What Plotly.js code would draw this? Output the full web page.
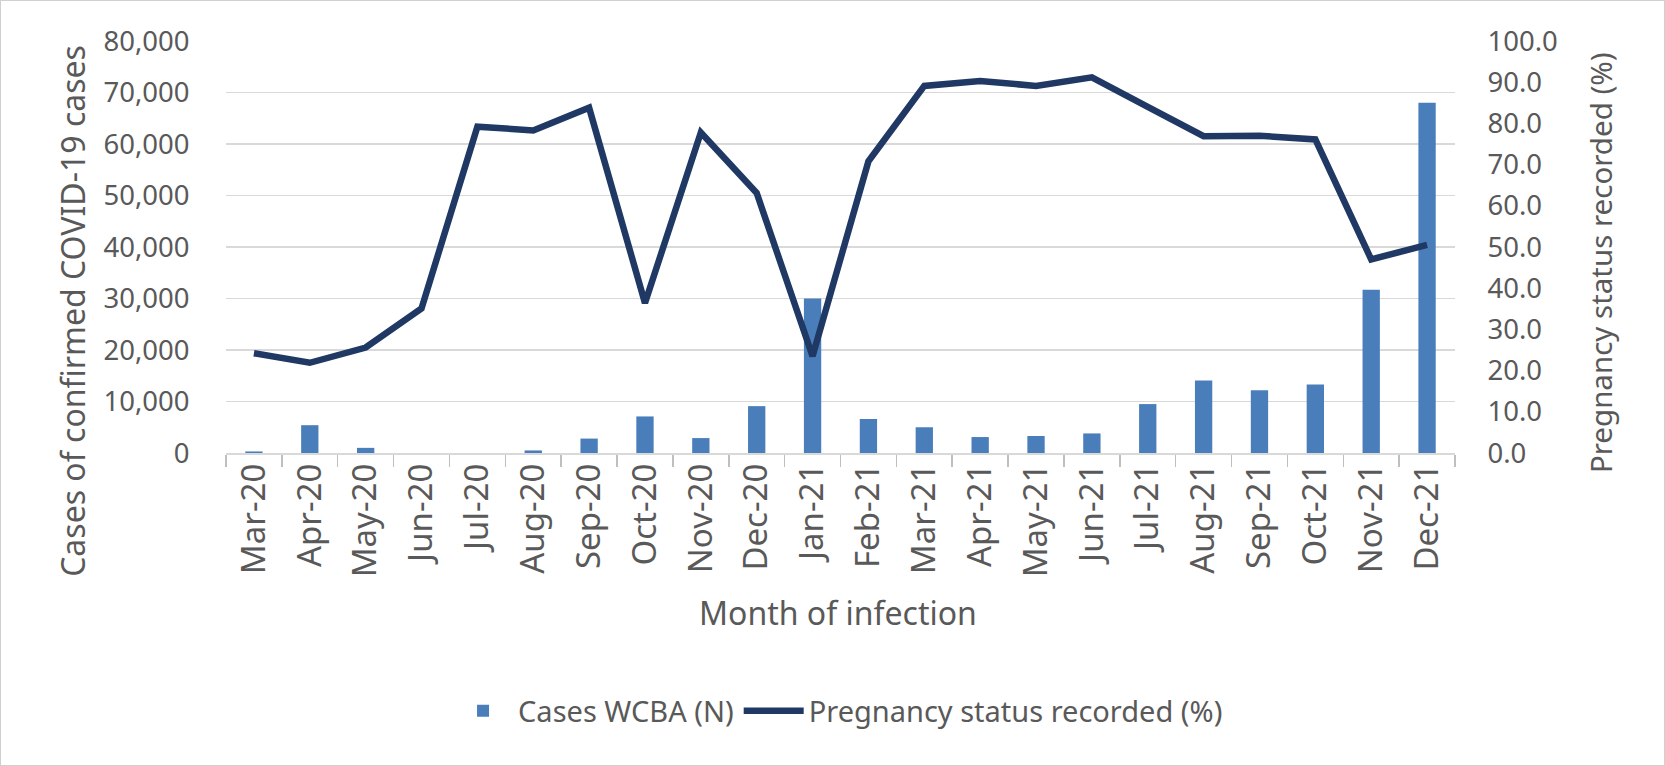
<!DOCTYPE html>
<html>
<head>
<meta charset="utf-8">
<script src="https://cdn.plot.ly/plotly-3.0.1.min.js"></script>
<style>
  html, body { margin: 0; padding: 0; background: #fff; }
  #frame { width: 1665px; height: 766px; box-sizing: border-box; border: 1px solid #d0d0d0; }
  #chart { width: 1663px; height: 764px; }
</style>
</head>
<body>
<div id="frame"><div id="chart"></div></div>
<script>
// months of infection
const months = ["Mar-20", "Apr-20", "May-20", "Jun-20", "Jul-20", "Aug-20", "Sep-20", "Oct-20",
  "Nov-20", "Dec-20", "Jan-21", "Feb-21", "Mar-21", "Apr-21", "May-21", "Jun-21",
  "Jul-21", "Aug-21", "Sep-21", "Oct-21", "Nov-21", "Dec-21"];

// cases of confirmed COVID-19 in women of childbearing age (left axis)
const casesWCBA = [300, 5400, 1000, 0, 0, 500, 2800, 7100,
  2900, 9100, 30000, 6600, 5000, 3100, 3300, 3800,
  9500, 14100, 12200, 13300, 31700, 68000];

// pregnancy status recorded, % (right axis)
const pregRecorded = [24.2, 21.9, 25.6, 35.1, 79.2, 78.3, 83.8, 36.4,
  77.8, 63.1, 23.5, 70.8, 89.1, 90.3, 89.1, 91.2,
  84.0, 76.9, 77.0, 76.1, 47.0, 50.5];

const textColor = '#595959';
const gridColor = '#d9d9d9';
const fontFamily = '"Noto Sans", "Open Sans", sans-serif';

const traces = [
  {
    type: 'bar',
    name: 'Cases WCBA (N)',
    x: months,
    y: casesWCBA,
    marker: { color: '#4a7ebb', line: { width: 0 } },
    yaxis: 'y',
  },
  {
    type: 'scatter',
    mode: 'lines',
    name: 'Pregnancy status recorded (%)',
    x: months,
    y: pregRecorded,
    line: { color: '#203864', width: 6.5 },
    yaxis: 'y2',
  },
];

const layout = {
  width: 1663,
  height: 764,
  margin: { l: 225, r: 209, t: 40, b: 312 },
  paper_bgcolor: '#fff',
  plot_bgcolor: '#fff',
  font: { family: fontFamily, size: 28, color: textColor },
  bargap: 0.69,
  showlegend: true,
  legend: {
    orientation: 'h',
    x: 0.498, xanchor: 'center',
    y: -0.626, yanchor: 'middle',
    font: { size: 29, color: textColor },
    itemwidth: 60,
    traceorder: 'normal',
  },
  xaxis: {
    type: 'category',
    tickson: 'boundaries',
    ticks: 'outside',
    ticklen: 12,
    tickcolor: '#bfbfbf',
    tickwidth: 1.5,
    showline: true,
    linecolor: gridColor,
    linewidth: 1.5,
    tickangle: -90,
    ticklabelstandoff: -4,
    tickfont: { size: 33, color: textColor },
    automargin: false,
  },
  yaxis: {
    range: [0, 80000],
    dtick: 10000,
    tickformat: ',d',
    showgrid: true,
    gridcolor: gridColor,
    gridwidth: 1.5,
    zeroline: false,
    showline: false,
    ticks: 'outside',
    ticklen: 30,
    tickcolor: 'rgba(0,0,0,0)',
    tickfont: { size: 27.5, color: textColor },
    automargin: false,
  },
  yaxis2: {
    range: [0, 100],
    dtick: 10,
    tickformat: '.1f',
    overlaying: 'y',
    side: 'right',
    showgrid: false,
    zeroline: false,
    showline: false,
    ticks: 'outside',
    ticklen: 26,
    tickcolor: 'rgba(0,0,0,0)',
    tickfont: { size: 27.5, color: textColor },
    automargin: false,
  },
  annotations: [
    {
      text: 'Cases of confirmed COVID-19 cases',
      xref: 'paper', yref: 'paper', x: -0.1245, y: 0.345,
      xanchor: 'center', yanchor: 'middle', textangle: -90, showarrow: false,
      font: { size: 32, color: textColor },
    },
    {
      text: 'Pregnancy status recorded (%)',
      xref: 'paper', yref: 'paper', x: 1.118, y: 0.461,
      xanchor: 'center', yanchor: 'middle', textangle: -90, showarrow: false,
      font: { size: 29.5, color: textColor },
    },
    {
      text: 'Month of infection',
      xref: 'paper', yref: 'paper', x: 0.498, y: -0.388,
      xanchor: 'center', yanchor: 'middle', showarrow: false,
      font: { size: 32, color: textColor },
    },
  ],
};

Plotly.newPlot('chart', traces, layout, { displayModeBar: false, staticPlot: true });
</script>
</body>
</html>
